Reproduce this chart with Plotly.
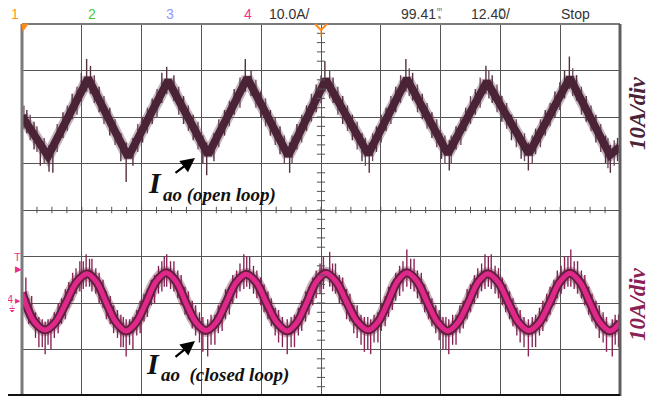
import plotly.graph_objects as go

# ---------------- scope settings ----------------
TIME_PER_DIV_MS = 12.40
AMP_PER_DIV = 10.0            # 10 A/div
N_HDIV = 10
N_VDIV = 8
CH1_OFFSET_DIV = 2.0          # open loop trace position (div)
CH4_OFFSET_DIV = -2.0         # closed loop trace position (div)

# ---------------- open loop current (A) ----------------
open_t = [0.0, 5.4, 13.7, 22.0, 30.3, 38.6, 46.7, 55.2, 63.0, 71.8, 79.8,
          88.3, 96.4, 105.1, 113.6, 121.9, 124.0]
open_i = [0.2, -8.4, 8.3, -8.6, 7.8, -8.1, 8.4, -8.3, 8.0, -8.0, 8.2,
          -7.9, 7.6, -7.9, 8.4, -8.2, -6.4]

# large noise spikes (time ms, low A, high A)
open_spike_t = [1.0, 2.5, 3.8, 5.6, 6.4, 8.5, 10.4, 12.3, 13.4, 14.2, 16.0, 18.2,
                20.5, 21.6, 23.0, 25.0, 27.0, 29.0, 30.0, 31.5, 33.5, 35.5, 37.5,
                38.3, 39.8, 42.0, 44.0, 46.3, 47.5, 49.5, 51.5, 53.5, 55.5, 57.0,
                59.0, 61.0, 62.8, 64.5, 66.5, 68.5, 70.5, 72.0, 73.5, 75.5, 77.5,
                79.6, 81.0, 83.0, 85.0, 87.0, 88.6, 90.0, 92.0, 94.0, 96.2, 97.5,
                99.5, 101.5, 103.5, 105.0, 106.5, 108.5, 110.5, 112.5, 113.5,
                115.0, 117.0, 119.0, 121.0, 122.0, 123.5]
open_spike_lo = [-3.5, -7.0, -10.5, -11.8, -12.0, -4.5, -0.5, 3.5, 5.5, 5.0, 1.0, -4.0,
                 -9.5, -14.0, -10.5, -5.5, -1.5, 3.0, 5.0, 3.5, -1.5, -5.0, -10.0,
                 -12.5, -9.5, -4.0, 0.5, 5.5, 4.5, 0.0, -4.0, -8.0, -12.0, -7.0,
                 -3.0, 1.0, 5.5, 3.0, -1.5, -5.0, -9.5, -12.0, -7.5, -3.0, 1.0,
                 5.5, 3.5, -0.5, -4.5, -9.0, -11.5, -7.0, -3.0, 0.5, 5.0, 3.0,
                 -1.0, -5.0, -9.0, -11.5, -8.0, -4.0, 0.0, 4.0, 6.0,
                 3.5, -1.0, -5.5, -10.0, -12.0, -9.5]
open_spike_hi = [1.5, -1.0, -5.0, -6.0, -6.0, 1.0, 5.0, 9.5, 12.5, 11.0, 6.5, 2.0,
                 -3.5, -5.5, -4.5, 0.0, 4.0, 9.5, 10.8, 9.0, 4.5, 0.5, -4.0,
                 -5.5, -3.5, 1.5, 6.0, 12.5, 10.0, 5.5, 1.5, -2.0, -5.5, -1.5,
                 2.5, 7.0, 12.0, 8.5, 4.5, 0.5, -3.5, -5.5, -2.0, 2.0, 6.5,
                 12.5, 9.5, 5.0, 1.0, -3.5, -5.0, -2.0, 2.0, 6.0, 11.0, 9.0,
                 4.5, 0.5, -3.5, -5.5, -2.5, 1.5, 5.5, 10.0, 13.0,
                 9.0, 4.5, 0.5, -4.0, -6.0, -4.5]

# smaller fuzz on the open loop band
open_fuzz_t = [0.4, 1.7, 3.1, 4.6, 7.3, 9.4, 11.4, 15.0, 17.0, 19.3, 24.0, 26.0, 28.0,
               32.5, 34.5, 36.5, 40.8, 43.0, 45.2, 48.5, 50.5, 52.5, 54.4, 56.0, 58.0,
               60.0, 62.0, 63.8, 65.5, 67.5, 69.5, 71.2, 72.7, 74.5, 76.5, 78.5, 80.3,
               82.0, 84.0, 86.0, 87.7, 89.0, 91.0, 93.0, 95.0, 96.8, 98.5, 100.5,
               102.5, 104.2, 105.8, 107.5, 109.5, 111.5, 114.2, 116.0, 118.0, 120.0,
               121.5, 122.8]
open_fuzz_lo = [-2.5, -5.0, -7.5, -10.0, -7.5, -3.0, 0.5, 3.0, -1.5, -6.0, -7.5, -3.5, 0.0,
                0.5, -3.0, -7.0, -6.5, -2.0, 2.0, 2.0, -2.0, -6.0, -10.0, -10.0, -5.5,
                -1.0, 3.0, 4.0, 0.5, -3.0, -7.0, -10.5, -9.5, -5.5, -1.5, 3.0, 4.5,
                1.0, -2.5, -6.5, -10.0, -10.0, -6.0, -1.5, 2.0, 4.0, 1.0, -2.5,
                -6.5, -9.5, -10.0, -6.5, -2.0, 1.5, 4.5, 0.5, -3.0, -7.5,
                -11.0, -10.5]
open_fuzz_hi = [2.5, 0.5, -2.0, -4.5, -1.5, 2.5, 6.5, 9.0, 4.5, -0.5, -1.5, 2.0, 6.0,
                6.5, 2.5, -1.0, -0.5, 3.5, 8.5, 8.0, 4.0, 0.0, -4.0, -4.0, 0.5,
                5.0, 9.0, 10.0, 6.5, 2.5, -1.0, -4.5, -3.5, 0.5, 4.5, 9.0, 10.5,
                7.0, 3.0, -0.5, -4.0, -4.0, 0.0, 4.5, 8.5, 10.0, 7.0, 3.0,
                -0.5, -3.5, -4.0, -0.5, 3.0, 7.5, 10.5, 6.5, 2.5, -1.5,
                -4.5, -5.0]

# ---------------- closed loop current (A) ----------------
closed_t = [0.0, 2.6, 4.8, 6.95, 9.1, 11.3, 13.5, 15.5, 17.5, 19.55, 21.6, 23.65,
            25.7, 27.8, 29.9, 31.95, 34.0, 36.1, 38.2, 40.25, 42.3, 44.4, 46.5,
            48.6, 50.7, 52.85, 55.0, 57.0, 59.0, 61.0, 63.0, 65.2, 67.4, 69.6,
            71.8, 73.8, 75.8, 77.8, 79.8, 81.95, 84.1, 86.2, 88.3, 90.4, 92.5,
            94.55, 96.6, 98.75, 100.9, 103.0, 105.1, 107.25, 109.4, 111.5, 113.6,
            115.7, 117.8, 119.85, 121.9, 124.0]
closed_i = [2.2, -4.1, -5.8, -4.1, 0.0, 4.45, 6.3, 4.45, 0.0, -4.2, -6.0, -4.2,
            0.0, 4.6, 6.5, 4.6, 0.0, -4.2, -5.9, -4.2, 0.0, 4.4, 6.2,
            4.4, 0.0, -4.2, -6.0, -4.2, 0.0, 4.5, 6.4, 4.5, 0.0, -4.1,
            -5.8, -4.1, 0.0, 4.6, 6.5, 4.6, 0.0, -4.2, -6.0, -4.2, 0.0,
            4.45, 6.3, 4.45, 0.0, -4.2, -5.9, -4.2, 0.0, 4.5, 6.4,
            4.5, 0.0, -4.2, -6.0, -4.2]

closed_spike_t = [0.8, 2.0, 3.5, 4.8, 6.0, 7.5, 9.0, 10.5, 12.0, 13.3, 14.5, 16.0,
                  17.5, 19.0, 20.5, 21.6, 23.0, 24.5, 26.0, 27.5, 29.0, 30.0, 31.5,
                  33.0, 34.5, 36.0, 37.5, 38.5, 40.0, 41.5, 43.0, 44.5, 46.0, 47.2,
                  48.7, 50.2, 51.7, 53.2, 55.0, 56.5, 58.0, 59.5, 61.0, 62.5, 63.8,
                  65.0, 66.5, 68.0, 69.5, 71.0, 72.3, 73.8, 75.3, 76.8, 78.3, 79.8,
                  81.3, 82.8, 84.3, 85.8, 87.3, 88.5, 90.0, 91.5, 93.0, 94.5, 96.0,
                  97.3, 98.8, 100.3, 101.8, 103.3, 105.0, 106.5, 108.0, 109.5, 111.0,
                  112.5, 113.8, 115.2, 116.7, 118.2, 119.7, 121.2, 122.4, 123.7]
closed_spike_lo = [0.0, -4.5, -9.5, -11.0, -10.0, -6.5, -3.5, 0.5, 2.5, 3.5, 2.5, 0.0,
                   -3.5, -6.5, -9.5, -11.5, -10.0, -6.5, -3.0, 0.0, 2.5, 3.5, 2.5,
                   -0.5, -3.5, -7.0, -10.5, -11.5, -9.0, -6.0, -2.5, 1.0, 3.0, 3.0,
                   1.0, -2.0, -5.0, -8.5, -11.0, -9.5, -6.0, -2.5, 1.0, 3.0, 3.5,
                   2.0, -0.5, -4.0, -7.5, -10.5, -11.0, -8.5, -5.0, -1.5, 1.5, 3.5,
                   2.5, 0.0, -3.5, -6.5, -10.0, -11.0, -9.0, -5.5, -2.0, 1.0, 3.0,
                   3.0, 1.0, -2.0, -5.0, -8.5, -11.5, -9.5, -6.0, -2.5, 1.0,
                   3.0, 3.5, 2.0, -0.5, -4.0, -7.5, -10.5, -11.5, -9.5]
closed_spike_hi = [5.5, 1.5, -3.0, -4.0, -3.5, 0.0, 3.0, 6.5, 9.0, 10.5, 9.5, 6.5,
                   2.5, -0.5, -2.5, -3.5, -3.0, 0.5, 3.0, 6.0, 9.0, 10.5, 9.0,
                   6.0, 2.5, -0.5, -3.0, -3.5, -2.5, 0.5, 3.5, 7.0, 10.5, 10.0,
                   7.0, 4.0, 1.0, -1.5, -3.5, -2.5, 0.5, 3.5, 7.0, 10.0, 11.0,
                   8.5, 5.5, 2.0, -0.5, -3.0, -3.5, -2.0, 1.5, 4.5, 8.0, 11.5,
                   9.5, 6.5, 2.5, -0.5, -3.0, -3.5, -2.5, 0.5, 4.0, 7.5, 10.5,
                   10.5, 7.5, 4.0, 1.0, -1.5, -3.5, -2.5, 0.5, 3.5, 7.0,
                   10.0, 11.5, 9.0, 6.0, 2.0, -0.5, -3.0, -3.5, -2.5]

closed_fuzz_t = [1.4, 2.8, 4.2, 5.4, 6.7, 8.2, 9.7, 11.2, 12.7, 14.0, 15.3, 16.8, 18.3,
                 19.8, 21.0, 22.3, 23.8, 25.3, 26.8, 28.3, 29.5, 30.8, 32.3, 33.8, 35.3,
                 36.8, 39.2, 40.7, 42.2, 43.7, 45.2, 46.6, 48.0, 49.5, 51.0, 52.5, 54.0,
                 55.8, 57.3, 58.8, 60.3, 61.8, 64.4, 65.8, 67.3, 68.8, 70.3, 71.7, 73.0,
                 74.5, 76.0, 77.5, 79.0, 80.6, 82.0, 83.5, 85.0, 86.5, 87.9, 89.3, 90.8,
                 92.3, 93.8, 95.3, 96.7, 98.1, 99.6, 101.1, 102.6, 104.1, 105.8, 107.3,
                 108.8, 110.3, 111.8, 113.2, 114.5, 116.0, 117.5, 119.0, 120.5, 123.0]
closed_fuzz_lo = [-4.5, -7.5, -9.5, -9.0, -7.5, -4.5, -1.0, 2.0, 3.0, 3.5, 2.0, -1.0, -4.5,
                  -7.5, -9.5, -9.0, -7.0, -4.0, -0.5, 2.0, 3.5, 3.0, 1.0, -2.5, -5.5,
                  -8.5, -9.0, -6.5, -3.5, 0.0, 2.5, 3.5, 2.0, -0.5, -3.5, -7.0, -9.5,
                  -9.5, -7.0, -4.0, -0.5, 2.0, 2.5, 0.0, -3.5, -6.5, -9.0, -10.0, -8.5,
                  -6.0, -3.0, 0.5, 2.5, 3.0, 1.0, -2.0, -5.0, -8.0, -10.0, -9.0, -6.5,
                  -3.5, 0.0, 2.5, 3.5, 2.0, -0.5, -3.5, -7.0, -9.5, -9.5, -7.0,
                  -4.0, -0.5, 2.0, 3.5, 3.0, 1.0, -2.5, -5.5, -8.5, -9.0]
closed_fuzz_hi = [1.0, -2.0, -3.5, -3.5, -2.0, 1.0, 4.5, 7.5, 9.0, 9.5, 7.5, 5.0, 1.5,
                  -1.5, -3.0, -3.5, -1.5, 2.0, 5.0, 8.0, 10.0, 9.0, 7.0, 3.5, 0.5,
                  -2.0, -2.5, -0.5, 3.0, 6.0, 8.5, 10.0, 8.0, 5.5, 2.5, -1.0, -3.0,
                  -3.0, -1.0, 2.5, 5.5, 8.5, 8.5, 6.0, 3.0, -0.5, -2.5, -3.0, -2.5,
                  0.0, 3.5, 6.5, 9.0, 9.5, 7.0, 4.0, 1.0, -1.5, -3.0, -2.5, -0.5,
                  3.0, 6.0, 8.5, 10.0, 8.0, 5.5, 2.5, -1.0, -3.0, -3.0, -1.0,
                  2.0, 5.0, 8.0, 10.0, 9.0, 7.0, 3.5, 0.5, -2.0, -2.5]

# header / labels
channel_labels = ["1", "2", "3", "4"]
channel_colors = ["#ff9a1a", "#4ccc3c", "#8c9cff", "#f0308a"]
scale_text = "10.0A/"
delay_text = "99.41"
timebase_text = "12.40"
run_text = "Stop"
div_label = "10A/div"

X_MAX = TIME_PER_DIV_MS * N_HDIV
PX_W, PX_H = 598.0, 372.0
# the page body has an 8 px margin; the figure is sized/margined to compensate
PAGE_OFF = 8


def to_div(vals, offset):
    return [offset + v / AMP_PER_DIV for v in vals]


def spikes(ts, lo, hi, offset):
    xs, ys = [], []
    for t, a, b in zip(ts, lo, hi):
        xs += [t, t, None]
        ys += [offset + a / AMP_PER_DIV, offset + b / AMP_PER_DIV, None]
    return xs, ys


def px_x(px):
    """screen pixel x -> paper x"""
    return (px - 22) / PX_W


def px_y(py):
    """screen pixel y -> paper y"""
    return (396 - py) / PX_H


fig = go.Figure()


def add_lines(xs, ys, color, width, shape="linear"):
    fig.add_trace(go.Scatter(x=xs, y=ys, mode="lines", hoverinfo="skip",
                             line=dict(color=color, width=width, shape=shape,
                                       smoothing=1.0 if shape == "spline" else None)))


# open loop
add_lines(open_t, to_div(open_i, CH1_OFFSET_DIV), "rgba(110,75,95,0.4)", 12)
add_lines(*spikes(open_fuzz_t, open_fuzz_lo, open_fuzz_hi, CH1_OFFSET_DIV), "#6a4458", 1.3)
add_lines(*spikes(open_spike_t, open_spike_lo, open_spike_hi, CH1_OFFSET_DIV), "#55303f", 1.4)
add_lines(open_t, to_div(open_i, CH1_OFFSET_DIV), "#4a2336", 8)

# closed loop
add_lines(closed_t, to_div(closed_i, CH4_OFFSET_DIV), "rgba(110,30,70,0.35)", 13, "spline")
add_lines(*spikes(closed_fuzz_t, closed_fuzz_lo, closed_fuzz_hi, CH4_OFFSET_DIV), "#7a2050", 1.3)
add_lines(*spikes(closed_spike_t, closed_spike_lo, closed_spike_hi, CH4_OFFSET_DIV), "#8e2458", 1.4)
add_lines(closed_t, to_div(closed_i, CH4_OFFSET_DIV), "#62203f", 9, "spline")
add_lines(closed_t, to_div(closed_i, CH4_OFFSET_DIV), "#e0288a", 5, "spline")

shapes = []
# center graticule minor ticks
for k in range(N_HDIV * 4 + 1):
    t = k * TIME_PER_DIV_MS / 4
    shapes.append(dict(type="line", x0=t, x1=t, y0=-0.07, y1=0.07,
                       line=dict(color="#555", width=1), layer="above"))
xc = X_MAX / 2
for k in range(N_VDIV * 5 + 1):
    y = -N_VDIV / 2 + k * 0.2
    shapes.append(dict(type="line", x0=xc - 0.85, x1=xc + 0.85, y0=y, y1=y,
                       line=dict(color="#555", width=1), layer="above"))
# borders
shapes.append(dict(type="line", xref="paper", yref="paper", x0=0, x1=0, y0=0, y1=1,
                   line=dict(color="#7a7a7a", width=3)))
shapes.append(dict(type="line", xref="paper", yref="paper", x0=0, x1=1, y0=1, y1=1,
                   line=dict(color="#7a7a7a", width=2)))
shapes.append(dict(type="line", xref="paper", yref="paper", x0=1, x1=1, y0=0, y1=1,
                   line=dict(color="#5e5e5e", width=3)))
shapes.append(dict(type="line", xref="paper", yref="paper", x0=px_x(8), x1=1,
                   y0=0.003, y1=0.003, line=dict(color="#111", width=2)))
# trigger markers at top
shapes.append(dict(type="path", xref="paper", yref="paper",
                   path=f"M 0,1 L {6/PX_W},1 L {1/PX_W},{1-7/PX_H} Z",
                   fillcolor="#ff8c1a", line=dict(color="#ff8c1a", width=1)))
shapes.append(dict(type="path", xref="paper", yref="paper",
                   path=f"M {0.5-6/PX_W},1 L 0.5,{1-6/PX_H} L {0.5+6/PX_W},1",
                   line=dict(color="#ff8c1a", width=2)))
shapes.append(dict(type="line", xref="paper", yref="paper", x0=0.5, x1=0.5,
                   y0=1 - 13 / PX_H, y1=1 - 6 / PX_H, line=dict(color="#ff8c1a", width=1)))

annotations = []
hdr_y = px_y(14)
hdr_font = "Liberation Sans"
hdr_col = "#333"


def hdr(text, px, color=hdr_col, size=14, anchor="left", y=hdr_y):
    annotations.append(dict(xref="paper", yref="paper", x=px_x(px), y=y, xanchor=anchor,
                            yanchor="middle", text=text, showarrow=False,
                            font=dict(color=color, size=size, family=hdr_font)))


for lab, col, px in zip(channel_labels, channel_colors, [15, 92, 170, 248]):
    hdr(lab, px, color=col, anchor="center")
hdr(scale_text, 267)
hdr(delay_text, 399)
hdr("m<br>s", 435, size=6, y=px_y(13))
hdr(timebase_text, 469)
hdr("m<br>s", 497, size=6, y=px_y(13))
hdr("/", 504)
hdr(run_text, 559)

# left channel markers
pink = "#e8308a"


def left_mark(text, px, py, size, family=hdr_font):
    annotations.append(dict(xref="paper", yref="paper", x=px_x(px), y=px_y(py),
                            xanchor="center", yanchor="middle", text=text, showarrow=False,
                            font=dict(color=pink, size=size, family=family)))


left_mark("T", 17, 257, 11)
left_mark("▶", 18, 269, 9, "DejaVu Sans")
left_mark("4", 10, 299, 11)
left_mark("▶", 18, 301, 7, "DejaVu Sans")
left_mark("⏚", 12, 309, 9, "DejaVu Sans")

# right side labels
annotations.append(dict(xref="paper", yref="paper", x=px_x(637), y=px_y(113),
                        xanchor="center", yanchor="middle",
                        text=f"<b><i>{div_label}</i></b>", textangle=-90, showarrow=False,
                        font=dict(color="#4a2336", size=23, family="Liberation Serif")))
annotations.append(dict(xref="paper", yref="paper", x=px_x(637), y=px_y(304),
                        xanchor="center", yanchor="middle",
                        text=f"<b><i>{div_label}</i></b>", textangle=-90, showarrow=False,
                        font=dict(color="#8c1f55", size=23, family="Liberation Serif")))

# trace labels with arrows
serif = "Liberation Serif"
annotations.append(dict(xref="paper", yref="paper", x=px_x(155), y=px_y(183),
                        xanchor="center", yanchor="middle", text="<b><i>I</i></b>",
                        showarrow=False, font=dict(color="#111", size=30, family=serif)))
annotations.append(dict(xref="paper", yref="paper", x=px_x(161), y=px_y(195),
                        xanchor="left", yanchor="middle", text="<b><i>ao (open loop)</i></b>",
                        showarrow=False, font=dict(color="#111", size=19, family=serif)))
annotations.append(dict(xref="paper", yref="paper", x=px_x(195), y=px_y(158), ax=-21, ay=16,
                        text="", showarrow=True,
                        arrowhead=2, arrowsize=1.3, arrowwidth=2.2, arrowcolor="#000"))
annotations.append(dict(xref="paper", yref="paper", x=px_x(153), y=px_y(363),
                        xanchor="center", yanchor="middle", text="<b><i>I</i></b>",
                        showarrow=False, font=dict(color="#111", size=30, family=serif)))
annotations.append(dict(xref="paper", yref="paper", x=px_x(159), y=px_y(375),
                        xanchor="left", yanchor="middle",
                        text="<b><i>ao&nbsp;&nbsp;(closed loop)</i></b>",
                        showarrow=False, font=dict(color="#111", size=19, family=serif)))
annotations.append(dict(xref="paper", yref="paper", x=px_x(195), y=px_y(341), ax=-21, ay=17,
                        text="", showarrow=True,
                        arrowhead=2, arrowsize=1.3, arrowwidth=2.2, arrowcolor="#000"))

fig.update_layout(
    width=657 - PAGE_OFF, height=398 - PAGE_OFF,
    margin=dict(l=22 - PAGE_OFF, r=37, t=24 - PAGE_OFF, b=2),
    paper_bgcolor="white", plot_bgcolor="white",
    showlegend=False,
    xaxis=dict(range=[0, X_MAX], tick0=0, dtick=TIME_PER_DIV_MS, showgrid=True,
               gridcolor="#555", gridwidth=1, zeroline=False, showticklabels=False,
               ticks="", showline=False, fixedrange=True),
    yaxis=dict(range=[-N_VDIV / 2, N_VDIV / 2], tick0=0, dtick=1, showgrid=True,
               gridcolor="#555", gridwidth=1, zeroline=False, showticklabels=False,
               ticks="", showline=False, fixedrange=True),
    shapes=shapes,
    annotations=annotations,
)

fig.write_html("out.html")
